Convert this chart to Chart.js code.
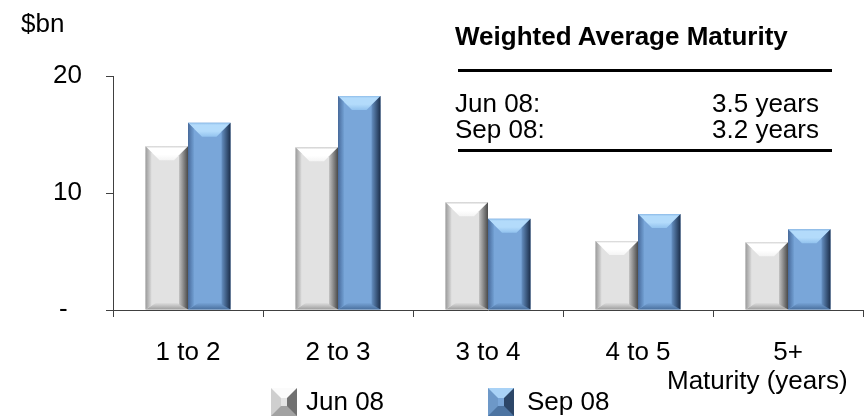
<!DOCTYPE html>
<html>
<head>
<meta charset="utf-8">
<script src="https://cdn.jsdelivr.net/npm/chart.js@4/dist/chart.umd.min.js"></script>
<style>
  html, body { margin: 0; padding: 0; background: #fff; }
  #wrap { position: relative; width: 864px; height: 417px; overflow: hidden;
          font-family: "Liberation Sans", Arial, sans-serif; color: #000; }
  #wrap canvas { position: absolute; left: 0; top: 0; }
  .t { position: absolute; font-size: 26px; line-height: 26px; white-space: nowrap; }
  .rule { position: absolute; background: #000; }
  .sw { position: absolute; width: 6px; height: 8px; border-style: solid; border-width: 10px; }
</style>
</head>
<body>
<div id="wrap">
  <canvas id="c" width="864" height="417"></canvas>
  <div class="t" style="left:21px;top:10px;">$bn</div>
  <div class="t" style="left:455px;top:23px;font-weight:bold;">Weighted Average Maturity</div>
  <div class="rule" style="left:458px;top:69px;width:374px;height:2.5px;"></div>
  <div class="t" style="left:455px;top:90px;">Jun 08:</div>
  <div class="t" style="right:45px;top:90px;">3.5 years</div>
  <div class="t" style="left:455px;top:116px;">Sep 08:</div>
  <div class="t" style="right:45px;top:116px;">3.2 years</div>
  <div class="rule" style="left:458px;top:149px;width:374px;height:2.5px;"></div>
  <div class="t" style="left:667px;top:367px;">Maturity (years)</div>
  <div class="sw" style="left:271px;top:388px;background:#e4e4e4;border-top-color:#fbfbfb;border-left-color:#cfcfcf;border-right-color:#707070;border-bottom-color:#a2a2a2;"></div>
  <div class="t" id="lg0" style="left:306px;top:388px;"></div>
  <div class="sw" style="left:488px;top:388px;background:#7aa6d8;border-top-color:#a9d2f6;border-left-color:#6d98c8;border-right-color:#2c4668;border-bottom-color:#4d74a2;"></div>
  <div class="t" id="lg1" style="left:527px;top:388px;"></div>
</div>
<script>
const categories = ['1 to 2', '2 to 3', '3 to 4', '4 to 5', '5+'];
const seriesNames = ['Jun 08', 'Sep 08'];
const jun08 = [14.0, 13.9, 9.2, 5.9, 5.8];
const sep08 = [16.0, 18.3, 7.8, 8.2, 6.9];
const yTickValues = [0, 10, 20];

document.getElementById('lg0').textContent = seriesNames[0];
document.getElementById('lg1').textContent = seriesNames[1];

const palettes = [
  { face: '#e2e2e2', topEdge: '#d0d0d0', topLight: '#ffffff', topLow: '#f4f4f4', leftOuter: '#9a9a9a', leftInner: '#dadada',
    rightInner: '#c4c4c4', rightOuter: '#4a4a4a', bottom: '#9e9e9e' },
  { face: '#79a6d9', topEdge: '#8cbbe8', topLight: '#b3dbfb', topLow: '#92c2ee', leftOuter: '#47699a', leftInner: '#72a0d3',
    rightInner: '#6590c2', rightOuter: '#1b2e4a', bottom: '#4a709e' }
];

const bevelPlugin = {
  id: 'bevel',
  afterDatasetsDraw(chart) {
    const ctx = chart.ctx;
    chart.data.datasets.forEach((ds, i) => {
      const meta = chart.getDatasetMeta(i);
      const p = palettes[i];
      meta.data.forEach(bar => {
        const { x, y, base, width } = bar.getProps(['x', 'y', 'base', 'width'], true);
        const L = x - width / 2, R = x + width / 2;
        const T = Math.min(y, base), B = Math.max(y, base);
        const h = B - T;
        const t = Math.min(14, h / 2), s = 14, bb = Math.min(7, h / 3);
        ctx.save();
        // top trapezoid
        let g = ctx.createLinearGradient(0, T, 0, T + t);
        g.addColorStop(0, p.topEdge);
        g.addColorStop(0.15, p.topLight);
        g.addColorStop(0.6, p.topLight);
        g.addColorStop(1, p.topLow);
        ctx.fillStyle = g;
        ctx.beginPath();
        ctx.moveTo(L, T); ctx.lineTo(R, T); ctx.lineTo(R - s, T + t); ctx.lineTo(L + s, T + t);
        ctx.closePath(); ctx.fill();
        // bottom trapezoid
        g = ctx.createLinearGradient(0, B - bb, 0, B);
        g.addColorStop(0, p.face);
        g.addColorStop(1, p.bottom);
        ctx.fillStyle = g;
        ctx.beginPath();
        ctx.moveTo(L, B); ctx.lineTo(R, B); ctx.lineTo(R - bb * 1.6, B - bb); ctx.lineTo(L + bb * 1.6, B - bb);
        ctx.closePath(); ctx.fill();
        // left strip
        g = ctx.createLinearGradient(L, 0, L + 6, 0);
        g.addColorStop(0, p.leftOuter);
        g.addColorStop(1, p.leftInner);
        ctx.fillStyle = g;
        ctx.beginPath();
        ctx.moveTo(L, T); ctx.lineTo(L + 6, T + 6); ctx.lineTo(L + 6, B - 4); ctx.lineTo(L, B);
        ctx.closePath(); ctx.fill();
        // right strip
        g = ctx.createLinearGradient(R - 9, 0, R, 0);
        g.addColorStop(0, p.rightInner);
        g.addColorStop(1, p.rightOuter);
        ctx.fillStyle = g;
        ctx.beginPath();
        ctx.moveTo(R, T); ctx.lineTo(R - 9, T + 9); ctx.lineTo(R - 9, B - 5); ctx.lineTo(R, B);
        ctx.closePath(); ctx.fill();
        ctx.restore();
      });
    });
  }
};

Chart.defaults.font.family = '"Liberation Sans", Arial, sans-serif';
Chart.defaults.color = '#000';

new Chart(document.getElementById('c'), {
  type: 'bar',
  data: {
    labels: categories,
    datasets: [
      { label: seriesNames[0], data: jun08, backgroundColor: palettes[0].face, borderWidth: 0 },
      { label: seriesNames[1], data: sep08, backgroundColor: palettes[1].face, borderWidth: 0 }
    ]
  },
  options: {
    responsive: false,
    animation: false,
    events: [],
    layout: { padding: { top: 76, right: 1, bottom: 0, left: 0 } },
    datasets: { bar: { categoryPercentage: 0.567, barPercentage: 1.0 } },
    plugins: { legend: { display: false }, tooltip: { enabled: false } },
    scales: {
      x: {
        grid: { display: true, drawOnChartArea: false, drawTicks: true, tickLength: 7, color: '#404040', offset: true },
        border: { display: true, color: '#404040', width: 1 },
        ticks: { font: { size: 26 }, color: '#000', padding: 20, maxRotation: 0, autoSkip: false },
        afterFit(s) { s.height = 107; }
      },
      y: {
        min: 0, max: 20,
        afterBuildTicks(s) { s.ticks = yTickValues.map(v => ({ value: v })); },
        grid: { display: true, drawOnChartArea: false, drawTicks: true, tickLength: 7, color: '#404040' },
        border: { display: true, color: '#404040', width: 1 },
        ticks: { font: { size: 26 }, color: '#000', padding: 24, callback: v => v === 0 ? '-  ' : String(v) },
        afterFit(s) { s.width = 113; }
      }
    }
  },
  plugins: [bevelPlugin]
});
</script>
</body>
</html>
